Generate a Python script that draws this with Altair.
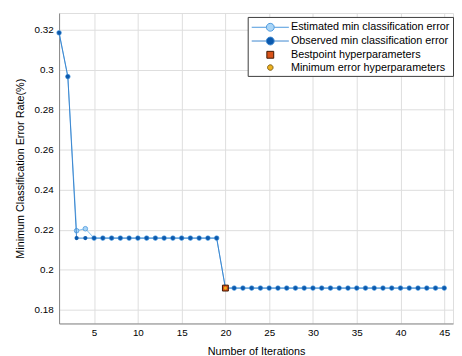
import altair as alt
import pandas as pd

# ---- data ----
iterations = list(range(1, 46))
observed = [0.3185, 0.2966, 0.2158, 0.2158, 0.2158, 0.2158, 0.2158, 0.2158, 0.2158, 0.2158,
            0.2158, 0.2158, 0.2158, 0.2158, 0.2158, 0.2158, 0.2158, 0.2158, 0.2158, 0.1908,
            0.1908, 0.1908, 0.1908, 0.1908, 0.1908, 0.1908, 0.1908, 0.1908, 0.1908, 0.1908,
            0.1908, 0.1908, 0.1908, 0.1908, 0.1908, 0.1908, 0.1908, 0.1908, 0.1908, 0.1908,
            0.1908, 0.1908, 0.1908, 0.1908, 0.1908]
estimated = [0.3185, 0.2966, 0.2195, 0.2205, 0.2158, 0.2158, 0.2158, 0.2158, 0.2158, 0.2158,
             0.2158, 0.2158, 0.2158, 0.2158, 0.2158, 0.2158, 0.2158, 0.2158, 0.2158, 0.1908,
             0.1908, 0.1908, 0.1908, 0.1908, 0.1908, 0.1908, 0.1908, 0.1908, 0.1908, 0.1908,
             0.1908, 0.1908, 0.1908, 0.1908, 0.1908, 0.1908, 0.1908, 0.1908, 0.1908, 0.1908,
             0.1908, 0.1908, 0.1908, 0.1908, 0.1908]
best_iter = [20]
best_value = [0.1908]
series_names = ["Estimated min classification error", "Observed min classification error",
                "Bestpoint hyperparameters", "Minimum error hyperparameters"]
y_ticks = [0.18, 0.2, 0.22, 0.24, 0.26, 0.28, 0.3, 0.32]
x_ticks = [5, 10, 15, 20, 25, 30, 35, 40, 45]

FONT = "Liberation Sans"
EST_LINE = "#80bdec"
EST_FILL = "#a9d5f7"
EST_EDGE = "#4b98dc"
OBS_LINE = "#3b86cf"
OBS_DOT = "#0b59ad"
BEST_FILL = "#d95319"
BEST_EDGE = "#3c1600"
MIN_FILL = "#edb120"

df = pd.DataFrame({"iter": iterations, "obs": observed, "est": estimated})
best = pd.DataFrame({"iter": best_iter, "val": best_value})
leg = pd.DataFrame({"series": series_names})

xs = alt.Scale(domain=[1, 46], nice=False, zero=False)
ys = alt.Scale(domain=[0.1731, 0.3284], nice=False, zero=False)

x_axis = alt.Axis(values=x_ticks, title="Number of Iterations", grid=True, ticks=False,
                  labelPadding=4, titlePadding=9, titleFontWeight="normal")
y_axis = alt.Axis(values=y_ticks, format="~g", title="Minimum Classification Error Rate(%)",
                  grid=True, ticks=False, labelPadding=6, titlePadding=9,
                  titleFontWeight="normal")

X = alt.X("iter:Q", scale=xs, axis=x_axis)

est_line = alt.Chart(df).mark_line(color=EST_LINE, strokeWidth=1).encode(
    x=X, y=alt.Y("est:Q", scale=ys, axis=y_axis))
est_pts = alt.Chart(df).mark_point(filled=True, fill=EST_FILL, stroke=EST_EDGE, strokeWidth=0.8,
                                   size=22, opacity=1, shape="circle").encode(
    x=X, y=alt.Y("est:Q", scale=ys))
obs_line = alt.Chart(df).mark_line(color=OBS_LINE, strokeWidth=1).encode(
    x=X, y=alt.Y("obs:Q", scale=ys))
obs_pts = alt.Chart(df).mark_point(filled=True, color=OBS_DOT, size=18, opacity=1,
                                   shape="circle").encode(
    x=X, y=alt.Y("obs:Q", scale=ys))
best_pt = alt.Chart(best).mark_point(filled=True, fill=BEST_FILL, stroke=BEST_EDGE, strokeWidth=1,
                                     size=36, opacity=1, shape="square").encode(
    x=X, y=alt.Y("val:Q", scale=ys))
min_pt = alt.Chart(best).mark_point(filled=True, color=MIN_FILL, size=10, opacity=1,
                                    shape="circle").encode(
    x=X, y=alt.Y("val:Q", scale=ys))

line_circle = "M-2.7,0H-0.57M0.57,0H2.7M0.57,0A0.57,0.57,0,1,1,-0.57,0A0.57,0.57,0,1,1,0.57,0Z"
square = "M-0.5,-0.5H0.5V0.5H-0.5Z"
small_circle = "M0.4,0A0.4,0.4,0,1,1,-0.4,0A0.4,0.4,0,1,1,0.4,0Z"

legend = alt.Legend(title=None, orient="none", legendX=192, legendY=4,
                    strokeColor="#3a3a3a", fillColor="white", padding=3, cornerRadius=0,
                    symbolSize=196, symbolStrokeWidth=1, symbolOpacity=1,
                    symbolOffset=12.5, labelOffset=13.5, rowPadding=0,
                    labelFont=FONT, labelFontSize=11, labelColor="#000000", labelLimit=300)

legend_layer = alt.Chart(leg).mark_point(filled=True, opacity=0).encode(
    shape=alt.Shape("series:N", scale=alt.Scale(domain=series_names,
                    range=[line_circle, line_circle, square, small_circle]), legend=legend),
    fill=alt.Fill("series:N", scale=alt.Scale(domain=series_names,
                  range=[EST_FILL, OBS_DOT, BEST_FILL, MIN_FILL]), legend=legend),
    stroke=alt.Stroke("series:N", scale=alt.Scale(domain=series_names,
                      range=[EST_EDGE, OBS_LINE, BEST_EDGE, "#7a5a10"]), legend=legend),
)

chart = alt.layer(est_line, est_pts, obs_line, obs_pts, best_pt, min_pt, legend_layer).properties(
    width=401, height=316,
    autosize=alt.AutoSizeParams(type="none"),
    padding={"left": 52, "top": 2, "right": 1, "bottom": 30},
).configure_view(stroke=None).configure_axis(
    labelFont=FONT, titleFont=FONT, labelFontSize=11.5, titleFontSize=11,
    labelColor="#262626", titleColor="#262626", titleFontWeight="normal",
    domainColor="#555555", gridColor="#ebebeb", gridWidth=1,
).configure(background="white")

chart.save("out.html", embed_options={"renderer": "svg", "actions": False})
